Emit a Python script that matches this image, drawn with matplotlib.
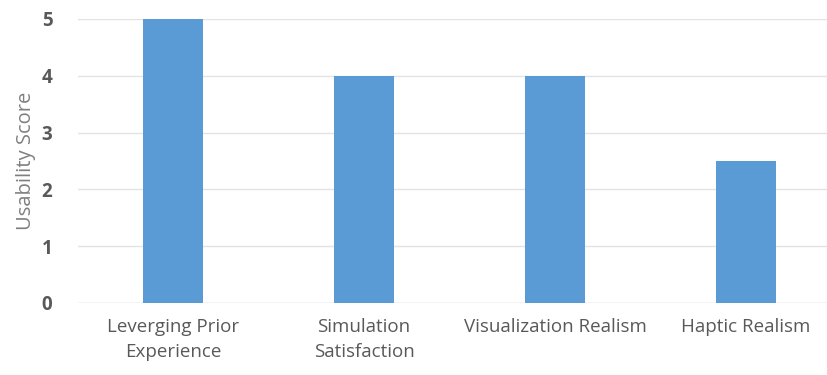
import matplotlib.pyplot as plt
import numpy as np

kategoriler = ['Leverging Prior\nExperience', 'Simulation\nSatisfaction',
               'Visualization Realism', 'Haptic Realism']
skorlar = [5, 4, 4, 2.5]
y_ticks = [0, 1, 2, 3, 4, 5]

plt.rcParams['font.family'] = ['Open Sans', 'DejaVu Sans']

fig = plt.figure(figsize=(8.27, 3.75), dpi=100)
# eksen sag kenari biraz figurun disina tasiyor
ax = fig.add_axes([77.5/827, 72/375, 764/827, 284/375])

x = np.arange(len(kategoriler))
ax.bar(x, skorlar, width=0.314, color='#5B9BD5', zorder=3)

ax.set_xlim(-0.5, len(kategoriler) - 0.5)
ax.set_ylim(0, 5)
ax.set_yticks(y_ticks)
ax.set_yticklabels([str(t) for t in y_ticks], fontsize=13.5, fontweight='bold', color='#595959')
ax.set_xticks(x)
ax.set_xticklabels(kategoriler, fontsize=13.5, color='#595959', linespacing=1.45)
ax.tick_params(axis='both', length=0)
ax.tick_params(axis='y', pad=18)
ax.tick_params(axis='x', pad=11)

ax.grid(axis='y', color='#E3E3E3', linewidth=1, zorder=0)
for s in ax.spines.values():
    s.set_visible(False)
ax.axhline(0, color='#E3E3E3', linewidth=1, zorder=1)

ax.set_ylabel('Usability Score', fontsize=14.5, color='#7F7F7F', labelpad=4)

fig.savefig('out.png', dpi=100)
